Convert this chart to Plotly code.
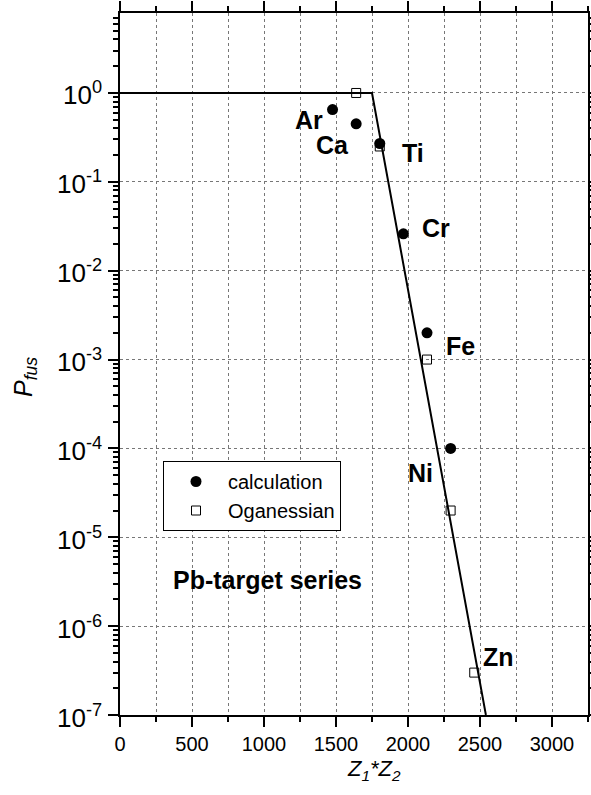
import numpy as np
import plotly.graph_objects as go

# ---- data ----
calc_x = [1476, 1640, 1804, 1968, 2132, 2296]
calc_y = [0.65, 0.45, 0.27, 0.026, 0.002, 1.0e-4]
ogan_x = [1640, 1804, 2132, 2296, 2460]
ogan_y = [1.0, 0.25, 1.0e-3, 2.0e-5, 3.0e-7]
line_x = [0, 1750, 2541]
line_y = [1.0, 1.0, 1.0e-7]
labels = ["Ar", "Ca", "Ti", "Cr", "Fe", "Ni", "Zn"]
label_x = [1312, 1478, 2032, 2195, 2368, 2084, 2629]
label_y = [0.50, 0.26, 0.213, 0.030, 1.43e-3, 5.3e-5, 4.5e-7]
y_tickvals = [1e-7, 1e-6, 1e-5, 1e-4, 1e-3, 1e-2, 1e-1, 1e0]
y_ticktext = ["10<sup>%d</sup>" % e for e in range(-7, 1)]
x_tickvals = [0, 500, 1000, 1500, 2000, 2500, 3000]

FONT = "Liberation Sans, Arial, sans-serif"

minor_y = []
for e in range(-7, 1):
    for m in range(2, 10):
        v = m * 10.0 ** e
        if np.log10(v) <= 0.9:
            minor_y.append(v)

W, H = 591, 795
L, R, T, B = 120, 3, 13, 80
pw, ph = W - L - R, H - T - B

fig = go.Figure()
fig.add_trace(go.Scatter(x=line_x, y=line_y, mode="lines",
                         line=dict(color="black", width=2), showlegend=False))
fig.add_trace(go.Scatter(x=calc_x, y=calc_y, mode="markers", name="calculation",
                         marker=dict(symbol="circle", size=11, color="black")))
fig.add_trace(go.Scatter(x=ogan_x, y=ogan_y, mode="markers", name="Oganessian",
                         marker=dict(symbol="square-open", size=9, color="black",
                                     line=dict(width=1, color="black"))))

for t, lx, ly in zip(labels, label_x, label_y):
    fig.add_annotation(x=lx, y=np.log10(ly), xref="x", yref="y", text="<b>%s</b>" % t,
                       showarrow=False, font=dict(family=FONT, size=25, color="black"))

fig.add_annotation(x=1025, y=np.log10(3.3e-6), xref="x", yref="y",
                   text="<b>Pb-target series</b>", showarrow=False,
                   font=dict(family=FONT, size=25, color="black"))

# y tick labels placed as text next to the axis
for tv, tt in zip(y_tickvals, y_ticktext):
    fig.add_annotation(x=(104 - L) / pw, y=np.log10(tv), xref="paper", yref="y", text=tt,
                       showarrow=False, xanchor="right", yanchor="middle", yshift=-1,
                       font=dict(family=FONT, size=26, color="black"))

fig.add_annotation(x=(374 - L) / pw, y=(H - B - 770) / ph, xref="paper", yref="paper",
                   text="<i>Z<sub>1</sub>*Z<sub>2</sub></i>", showarrow=False,
                   xanchor="center", yanchor="middle",
                   font=dict(family=FONT, size=22, color="black"))
fig.add_annotation(x=(25 - L) / pw, y=(H - B - 377) / ph, xref="paper", yref="paper",
                   text="<i>P<sub>fus</sub></i>", textangle=-90, showarrow=False,
                   xanchor="center", yanchor="middle",
                   font=dict(family=FONT, size=25, color="black"))

fig.update_layout(
    width=W, height=H,
    margin=dict(l=L, r=R, t=T, b=B, autoexpand=False),
    paper_bgcolor="white", plot_bgcolor="white",
    font=dict(family=FONT, color="black"),
    legend=dict(x=(163 - L) / pw, y=(H - B - 461) / ph, xanchor="left", yanchor="top",
                bordercolor="black", borderwidth=1, bgcolor="white", itemwidth=54,
                font=dict(family=FONT, size=20, color="black"), tracegroupgap=0),
)
fig.update_xaxes(
    range=[0, 3250], tickmode="array", tickvals=x_tickvals, automargin=False,
    showline=True, linecolor="black", linewidth=2, mirror="ticks",
    ticks="outside", ticklen=10, tickwidth=2, tickcolor="black",
    tickfont=dict(family=FONT, size=20, color="black"),
    showgrid=True, gridcolor="#777777", griddash="dot", gridwidth=1,
    zeroline=False,
    minor=dict(dtick=250, tick0=0, ticks="outside", ticklen=5, tickwidth=1.5, tickcolor="black",
               showgrid=True, gridcolor="#777777", griddash="dot", gridwidth=1),
)
fig.update_yaxes(
    type="log", range=[-7, 0.9], tickmode="array", tickvals=y_tickvals,
    showticklabels=False, automargin=False,
    showline=True, linecolor="black", linewidth=2, mirror="ticks",
    ticks="outside", ticklen=10, tickwidth=2, tickcolor="black",
    showgrid=True, gridcolor="#777777", griddash="dot", gridwidth=1,
    zeroline=False,
    minor=dict(tickmode="array", tickvals=minor_y, ticks="outside", ticklen=5, tickwidth=1.5,
               tickcolor="black", showgrid=False),
)

fig.write_html("out.html")
